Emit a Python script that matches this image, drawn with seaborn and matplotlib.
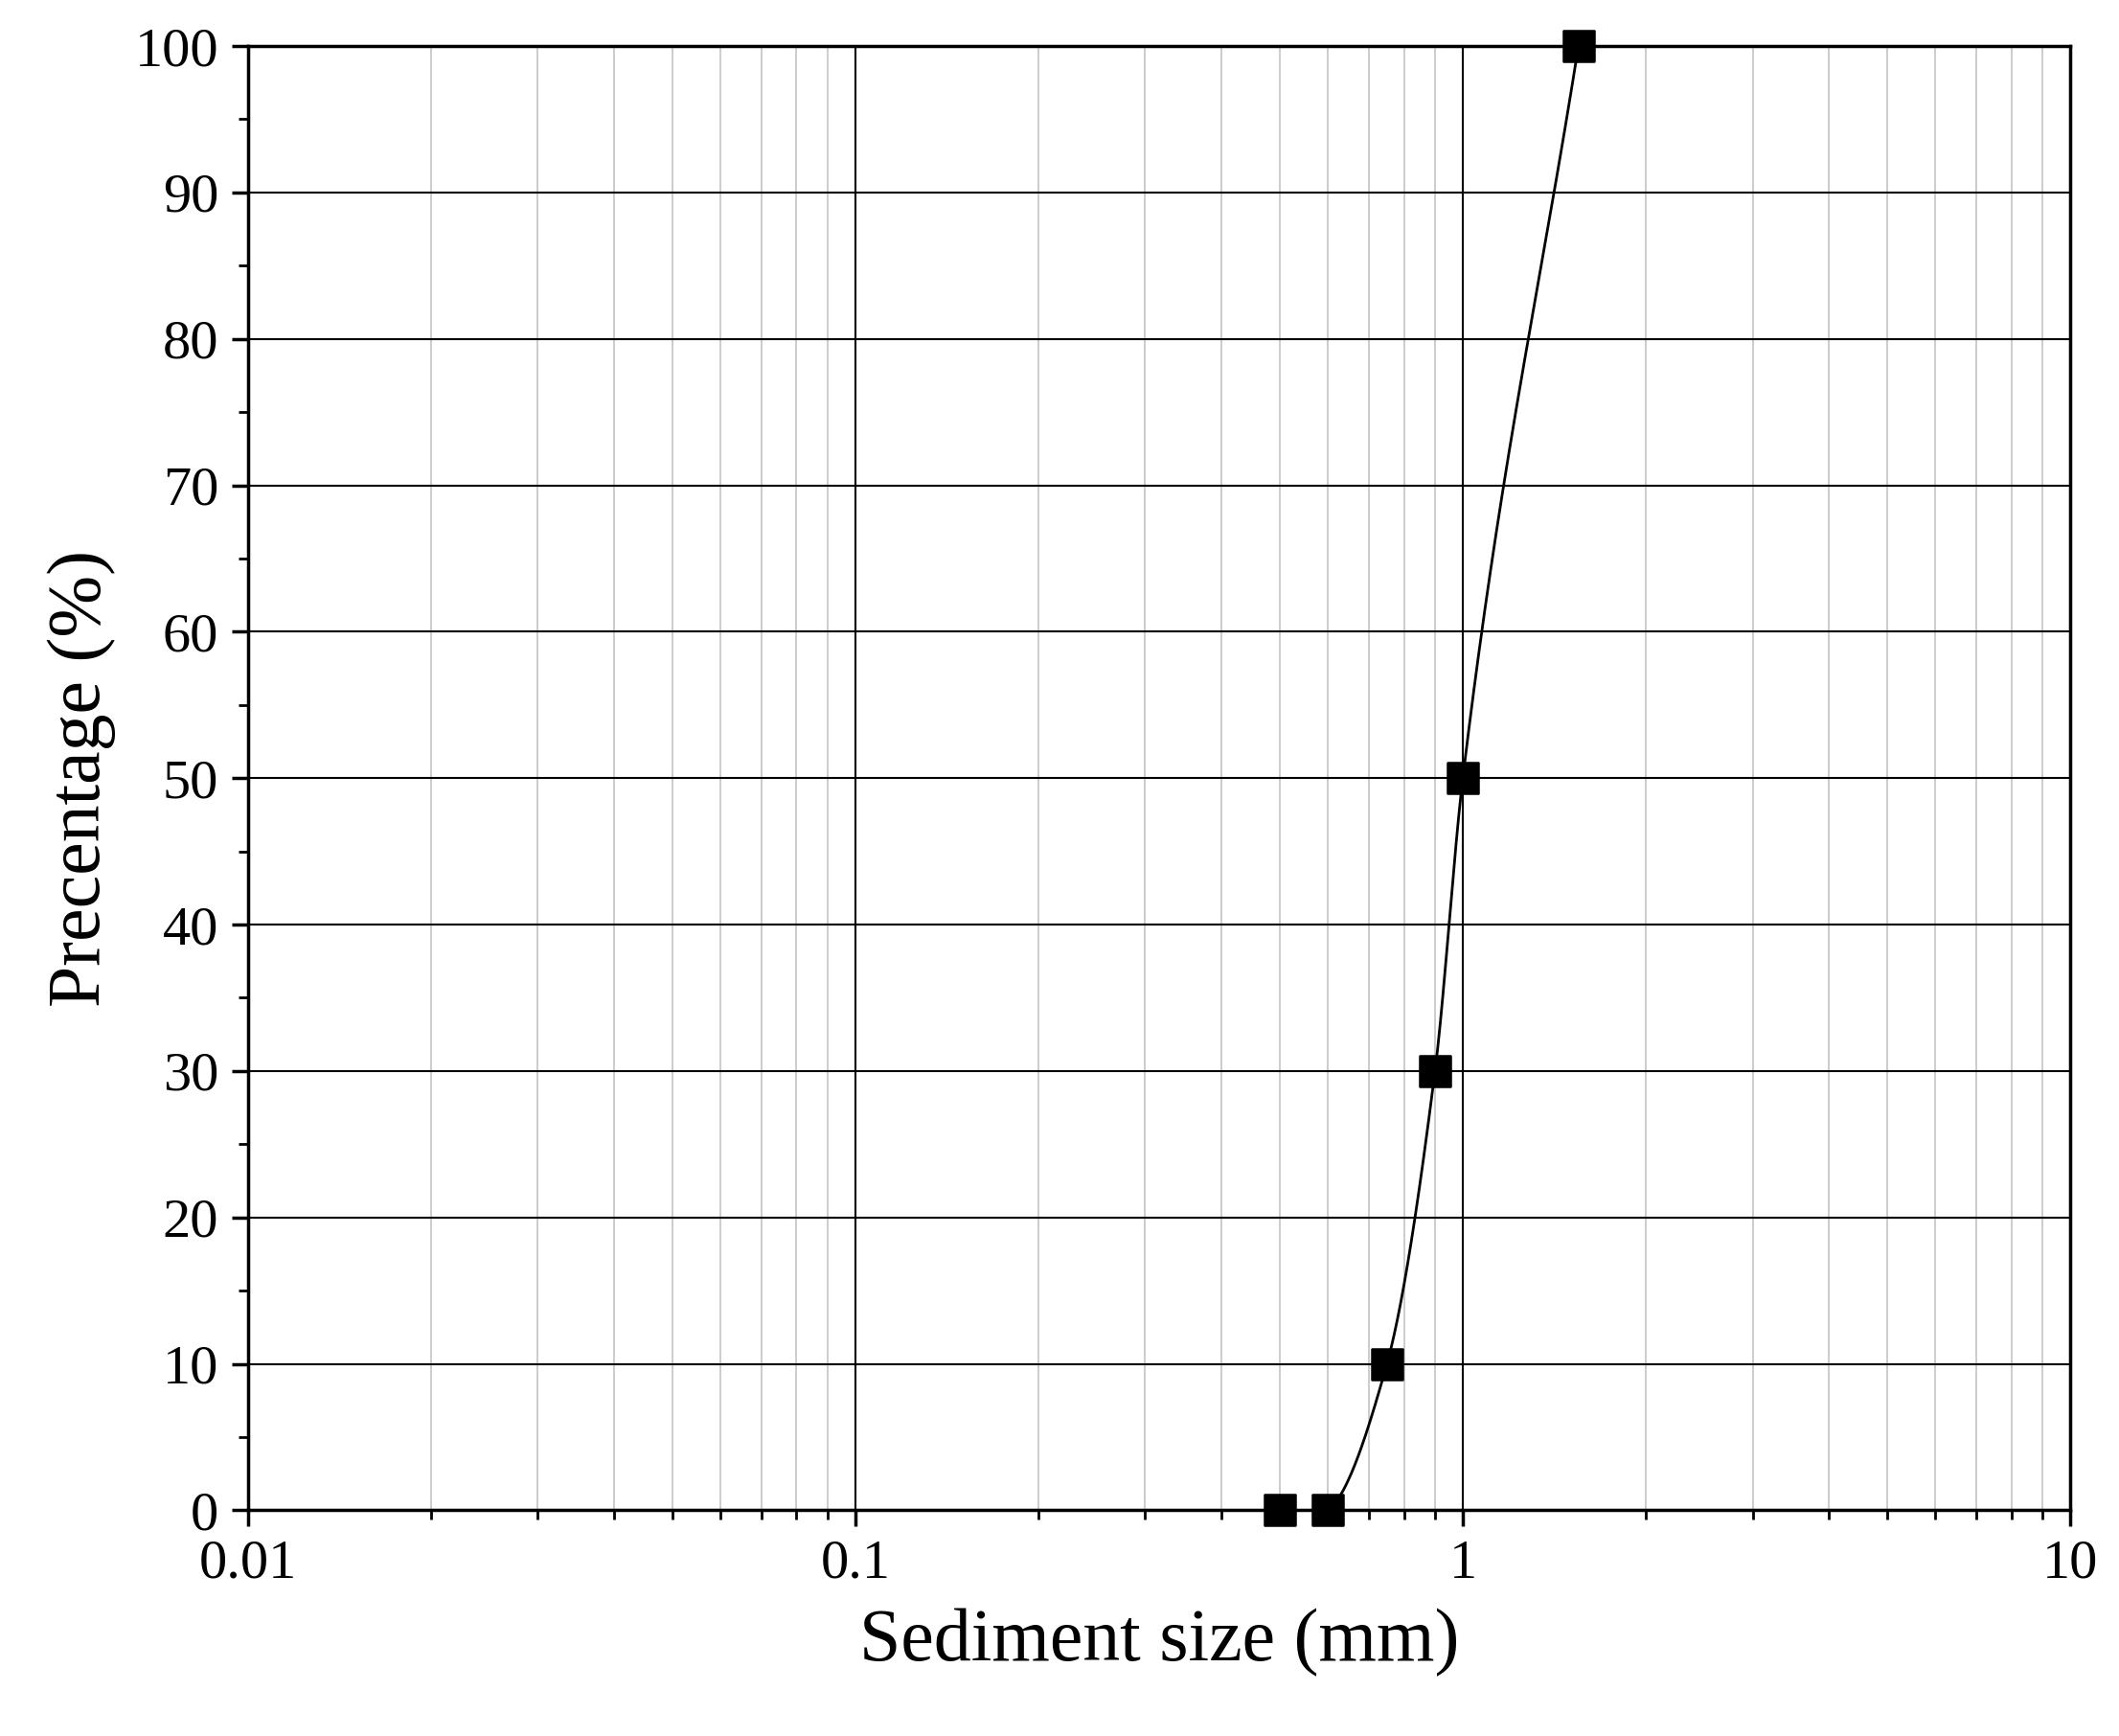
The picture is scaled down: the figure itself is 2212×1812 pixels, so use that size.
import numpy as np
import pandas as pd
import matplotlib
matplotlib.use("Agg")
import matplotlib.pyplot as plt
import matplotlib.ticker as mticker
import seaborn as sns

# ─── Data ─────────────────────────────────────────────────────────────────────
size_mm = [0.5, 0.6, 0.75, 0.9, 1.0, 1.55]
percent = [0, 0, 10, 30, 50, 100]

sns.set_style("ticks")
plt.rcParams["font.family"] = ["Liberation Serif", "DejaVu Serif"]
plt.rcParams.update({"text.color": "black", "axes.labelcolor": "black",
                     "xtick.color": "black", "ytick.color": "black"})

df = pd.DataFrame({"size": size_mm, "pct": percent})

# smooth line through the measured points (monotone Hermite in log-x), from 0.6 mm up
def pchip(x, y, xn):
    x = np.asarray(x, float); y = np.asarray(y, float)
    h = np.diff(x); d = np.diff(y) / h
    m = np.zeros_like(y)
    for k in range(1, len(x) - 1):
        if d[k - 1] * d[k] > 0:
            w1 = 2 * h[k] + h[k - 1]; w2 = h[k] + 2 * h[k - 1]
            m[k] = (w1 + w2) / (w1 / d[k - 1] + w2 / d[k])
    m[0] = d[0] * 0.3; m[-1] = d[-1]
    out = np.empty_like(xn)
    for i, xv in enumerate(xn):
        k = min(np.searchsorted(x, xv) - 1, len(x) - 2); k = max(k, 0)
        t = (xv - x[k]) / h[k]
        h00 = 2*t**3 - 3*t**2 + 1; h10 = t**3 - 2*t**2 + t
        h01 = -2*t**3 + 3*t**2; h11 = t**3 - t**2
        out[i] = h00*y[k] + h10*h[k]*m[k] + h01*y[k+1] + h11*h[k]*m[k+1]
    return out

lx = np.log10(size_mm[1:])
xs = np.linspace(lx[0], lx[-1], 300)
curve = pd.DataFrame({"size": 10 ** xs, "pct": pchip(lx, percent[1:], xs)})

fig = plt.figure(figsize=(22.12, 18.12), dpi=100)
ax = fig.add_axes([0.117, 0.130, 0.86, 0.8435])

ax.set_xscale("log")
sns.lineplot(data=curve, x="size", y="pct", ax=ax, color="black", lw=2, sort=False, zorder=3)
sns.scatterplot(data=df, x="size", y="pct", ax=ax, marker="s", s=520, color="black",
                edgecolor="black", zorder=4, clip_on=False)

ax.set_xlim(0.01, 10)
ax.set_ylim(0, 100)
ax.yaxis.set_major_locator(mticker.MultipleLocator(10))
ax.yaxis.set_minor_locator(mticker.MultipleLocator(5))
ax.xaxis.set_major_locator(mticker.LogLocator(base=10))
ax.xaxis.set_minor_locator(mticker.LogLocator(base=10, subs=np.arange(2, 10)))
ax.xaxis.set_minor_formatter(mticker.NullFormatter())
ax.xaxis.set_major_formatter(mticker.FuncFormatter(lambda v, _: f"{v:g}"))

ax.grid(which="major", axis="both", color="black", lw=1.5)
ax.grid(which="minor", axis="x", color="#c8c8c8", lw=1.3)
ax.set_axisbelow(True)

for s in ax.spines.values():
    s.set_linewidth(2.5); s.set_color("black")
ax.tick_params(which="major", length=12, width=2.5, labelsize=42, direction="out", pad=10)
ax.tick_params(which="minor", length=7, width=2, direction="out")

ax.set_xlabel("Sediment size (mm)", fontsize=56, labelpad=14)
ax.set_ylabel("Precentage (%)", fontsize=56, labelpad=14)

fig.savefig("out.png", dpi=100, facecolor="white")
